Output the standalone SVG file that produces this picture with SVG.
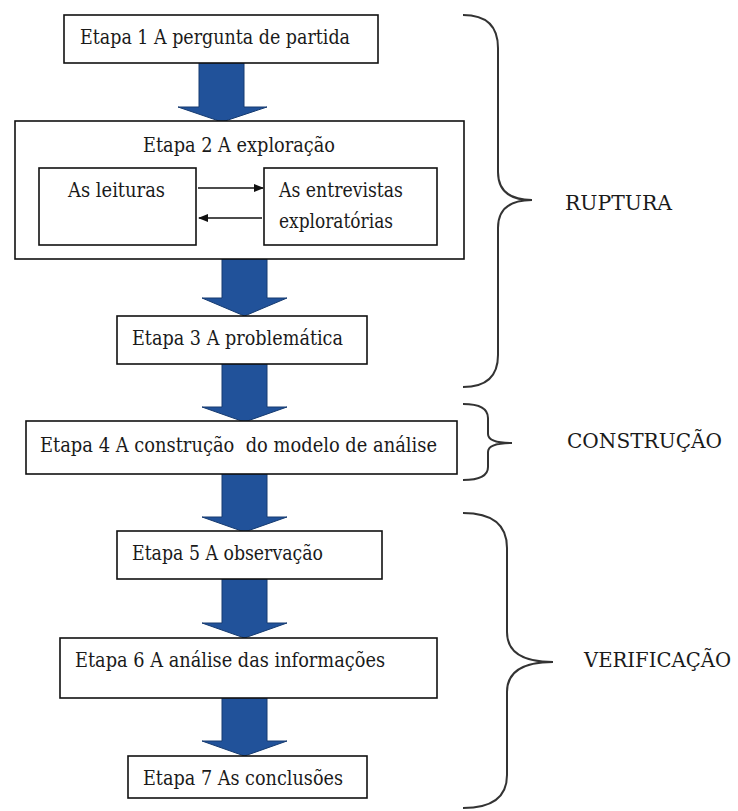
<svg xmlns="http://www.w3.org/2000/svg" width="738" height="811" viewBox="0 0 738 811">
<defs>
<style>
.box{fill:#fff;stroke:#111;stroke-width:1.6}
.t{font-family:"DejaVu Serif","Liberation Serif","Noto Serif",serif;font-size:20px;fill:#1a1a1a}
.big{fill:#21529a;stroke:#163b70;stroke-width:1}
.brace{fill:none;stroke:#333;stroke-width:2}
.ln{stroke:#111;stroke-width:1.6;fill:none}
</style>
<marker id="ah" viewBox="0 0 10 10" refX="9" refY="5" markerWidth="11" markerHeight="10" orient="auto" markerUnits="userSpaceOnUse">
<path d="M0,1 L10,5 L0,9 Z" fill="#111"/>
</marker>
</defs>
<rect width="738" height="811" fill="#fff"/>

<g id="connectors">
<path class="big" d="M199,63 H244 V107 H267 L222,122 L178,107 H199 Z"/>
<path class="big" d="M222,259 H267 V298 H287 L244.5,316 L202,298 H222 Z"/>
<path class="big" d="M222,364 H267 V407 H287 L244.5,422 L202,407 H222 Z"/>
<path class="big" d="M222,474 H267 V517 H287 L244.5,532 L202,517 H222 Z"/>
<path class="big" d="M222,579 H267 V623 H287 L244.5,638 L202,623 H222 Z"/>
<path class="big" d="M222,698 H267 V741 H287 L244.5,756 L202,741 H222 Z"/>
</g>

<g id="etapa1">
<rect class="box" x="64" y="15" width="314" height="48"/>
<text class="t" x="80" y="44" textLength="270" lengthAdjust="spacingAndGlyphs">Etapa 1 A pergunta de partida</text>
</g>

<g id="etapa2">
<rect class="box" x="15" y="121" width="449" height="138"/>
<text class="t" x="143" y="152" textLength="192" lengthAdjust="spacingAndGlyphs">Etapa 2 A exploração</text>
</g>
<g id="leituras">
<rect class="box" x="39" y="168" width="157" height="77"/>
<text class="t" x="68" y="197" textLength="97" lengthAdjust="spacingAndGlyphs">As leituras</text>
</g>
<g id="entrevistas">
<rect class="box" x="264" y="168" width="173" height="77"/>
<text class="t" x="279" y="197" textLength="124" lengthAdjust="spacingAndGlyphs">As entrevistas</text>
<text class="t" x="279" y="228" textLength="114" lengthAdjust="spacingAndGlyphs">exploratórias</text>
</g>
<g id="inner-connectors">
<line class="ln" x1="198" y1="188" x2="263" y2="188" marker-end="url(#ah)"/>
<line class="ln" x1="262" y1="218" x2="199" y2="218" marker-end="url(#ah)"/>
</g>

<g id="etapa3">
<rect class="box" x="117" y="316" width="250" height="48"/>
<text class="t" x="132" y="345" textLength="211" lengthAdjust="spacingAndGlyphs">Etapa 3 A problemática</text>
</g>

<g id="etapa4">
<rect class="box" x="26" y="421" width="431" height="53"/>
<text class="t" x="40" y="452" textLength="397" lengthAdjust="spacingAndGlyphs" xml:space="preserve">Etapa 4 A construção  do modelo de análise</text>
</g>

<g id="etapa5">
<rect class="box" x="117" y="531" width="265" height="48"/>
<text class="t" x="132" y="560" textLength="191" lengthAdjust="spacingAndGlyphs">Etapa 5 A observação</text>
</g>

<g id="etapa6">
<rect class="box" x="60" y="638" width="377" height="60"/>
<text class="t" x="75" y="667" textLength="310" lengthAdjust="spacingAndGlyphs">Etapa 6 A análise das informações</text>
</g>

<g id="etapa7">
<rect class="box" x="128" y="756" width="239" height="42"/>
<text class="t" x="143" y="785" textLength="200" lengthAdjust="spacingAndGlyphs">Etapa 7 As conclusões</text>
</g>

<g id="ruptura">
<path class="brace" d="M463,15 Q498,15 498,48 L498,172 Q498,200 532,200 Q498,200 498,228 L498,355 Q498,387 463,387"/>
<text class="t" x="565" y="210" textLength="107" lengthAdjust="spacingAndGlyphs">RUPTURA</text>
</g>

<g id="construcao">
<path class="brace" d="M463,404 Q488,404 488,418 L488,434 Q488,443 512,443 Q488,443 488,452 L488,467 Q488,480 463,480"/>
<text class="t" x="567" y="448" textLength="155" lengthAdjust="spacingAndGlyphs">CONSTRUÇÃO</text>
</g>

<g id="verificacao">
<path class="brace" d="M463,513 Q507,513 507,548 L507,632 Q507,662 553,662 Q507,662 507,692 L507,775 Q507,808 463,808"/>
<text class="t" x="584" y="667" textLength="147" lengthAdjust="spacingAndGlyphs">VERIFICAÇÃO</text>
</g>
</svg>
